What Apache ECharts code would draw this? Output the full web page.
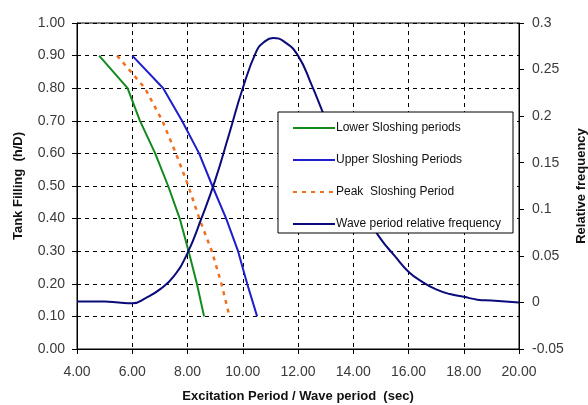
<!DOCTYPE html>
<html>
<head>
<meta charset="utf-8">
<script src="https://cdn.jsdelivr.net/npm/echarts@6/dist/echarts.min.js"></script>
<style>
  html, body { margin: 0; padding: 0; background: #fff; }
  #chart { width: 588px; height: 405px; }
</style>
</head>
<body>
<div id="chart"></div>
<script>
// Tank filling levels (h/D) and the matching sloshing periods (sec)
const fillLevels    = [0.9, 0.8, 0.7, 0.6, 0.5, 0.4, 0.3, 0.2, 0.1];
const lowerPeriods  = [4.80, 5.83, 6.28, 6.83, 7.30, 7.72, 8.04, 8.34, 8.60];
const upperPeriods  = [6.00, 7.12, 7.80, 8.42, 8.90, 9.40, 9.83, 10.16, 10.52];
const peakPeriods   = [5.45, 6.46, 7.09, 7.58, 8.03, 8.43, 8.88, 9.23, 9.52];

// Wave period distribution (relative frequency, right axis)
const wavePeriods   = [4, 5, 5.5, 6, 6.5, 7, 7.5, 8, 8.5, 9, 9.5, 10, 10.5, 10.75, 11.1, 11.5, 12, 12.5, 13, 13.5, 14, 14.5, 15, 15.5, 16, 16.5, 17, 17.5, 18, 18.5, 19, 19.5, 20];
const waveFreq      = [0.001, 0.001, 0.000, -0.001, 0.005, 0.014, 0.028, 0.053, 0.090, 0.131, 0.180, 0.230, 0.270, 0.279, 0.2838, 0.280, 0.265, 0.233, 0.197, 0.165, 0.127, 0.092, 0.068, 0.050, 0.033, 0.022, 0.014, 0.009, 0.006, 0.003, 0.002, 0.001, 0.000];

// Axis tick settings
const xTicks = { min: 4, max: 20, step: 2 };
const leftTicks = { min: 0, max: 1, step: 0.1 };
const rightTicks = { min: -0.05, max: 0.3, step: 0.05 };

const seriesNames = [
  'Lower Sloshing periods',
  'Upper Sloshing Periods',
  'Peak  Sloshing Period',
  'Wave period relative frequency'
];

const pair = (xs, ys) => xs.map((x, i) => [x, ys[i]]);

const font = 'Liberation Sans, Arial, sans-serif';
const labelStyle = { color: '#3a3a3a', fontSize: 14, fontFamily: font };
const nameStyle = { color: '#111', fontSize: 13, fontWeight: 'bold', fontFamily: font };
const dashed = { color: '#000', width: 1, type: [4, 4] };

const chart = echarts.init(document.getElementById('chart'), null, { renderer: 'canvas' });

chart.setOption({
  backgroundColor: '#fff',
  animation: false,
  grid: {
    left: 77, right: 69, top: 23, bottom: 56,
    containLabel: false, outerBoundsMode: 'none',
    show: true, borderColor: '#000', borderWidth: 1, backgroundColor: 'transparent'
  },
  xAxis: {
    type: 'value',
    min: xTicks.min, max: xTicks.max, interval: xTicks.step,
    name: 'Excitation Period / Wave period  (sec)',
    nameLocation: 'middle', nameGap: 41, nameTextStyle: nameStyle,
    axisLine: { lineStyle: { color: '#000', width: 1 } },
    axisTick: { show: true, length: 5, lineStyle: { color: '#000' } },
    axisLabel: Object.assign({ margin: 16, formatter: v => v.toFixed(2) }, labelStyle),
    splitLine: { show: true, lineStyle: dashed }
  },
  yAxis: [
    {
      type: 'value', position: 'left',
      min: leftTicks.min, max: leftTicks.max, interval: leftTicks.step,
      name: 'Tank Filling  (h/D)',
      nameLocation: 'middle', nameGap: 52, nameRotate: 90, nameTextStyle: nameStyle,
      axisLine: { show: true, lineStyle: { color: '#000', width: 1 } },
      axisTick: { show: true, length: 5, lineStyle: { color: '#000' } },
      axisLabel: Object.assign({ margin: 12, formatter: v => v.toFixed(2) }, labelStyle),
      splitLine: { show: true, lineStyle: dashed }
    },
    {
      type: 'value', position: 'right',
      min: rightTicks.min, max: rightTicks.max, interval: rightTicks.step,
      name: 'Relative frequency',
      nameLocation: 'middle', nameGap: 53, nameRotate: 90, nameTextStyle: nameStyle,
      axisLine: { show: true, lineStyle: { color: '#000', width: 1 } },
      axisTick: { show: true, length: 5, lineStyle: { color: '#000' } },
      axisLabel: Object.assign({ margin: 13, formatter: v => String(parseFloat(v.toFixed(2))) }, labelStyle),
      splitLine: { show: false }
    }
  ],
  graphic: [{
    type: 'rect',
    z: 10,
    shape: { x: 278, y: 112, width: 235, height: 121 },
    style: { fill: '#fff', stroke: '#000', lineWidth: 1 }
  }],
  legend: {
    z: 20,
    left: 287, top: 117,
    orient: 'vertical',
    itemWidth: 42, itemHeight: 10, itemGap: 20,
    itemStyle: { opacity: 0 },
    data: seriesNames,
    textStyle: { color: '#111', fontSize: 12, fontFamily: font, padding: [0, 0, 0, -4] }
  },
  series: [
    {
      name: seriesNames[0], type: 'line', yAxisIndex: 0, symbol: 'none',
      lineStyle: { color: '#138a1e', width: 2 }, itemStyle: { color: '#138a1e' },
      data: pair(lowerPeriods, fillLevels)
    },
    {
      name: seriesNames[1], type: 'line', yAxisIndex: 0, symbol: 'none',
      lineStyle: { color: '#1e1ecc', width: 2 }, itemStyle: { color: '#1e1ecc' },
      data: pair(upperPeriods, fillLevels)
    },
    {
      name: seriesNames[2], type: 'line', yAxisIndex: 0, symbol: 'none',
      lineStyle: { color: '#f07020', width: 2.5, type: [4, 5] }, itemStyle: { color: '#f07020' },
      data: pair(peakPeriods, fillLevels)
    },
    {
      name: seriesNames[3], type: 'line', yAxisIndex: 1, symbol: 'none', smooth: 0.5,
      lineStyle: { color: '#0a0a7a', width: 2 }, itemStyle: { color: '#0a0a7a' },
      data: pair(wavePeriods, waveFreq)
    }
  ]
});
</script>
</body>
</html>
